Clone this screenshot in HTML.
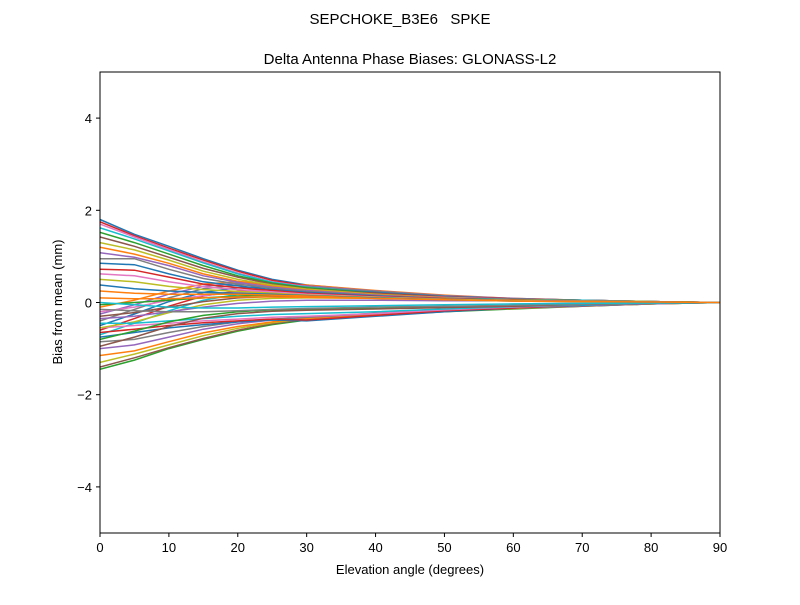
<!DOCTYPE html>
<html><head><meta charset="utf-8"><style>
body{margin:0;background:#fff;}
svg text{font-family:"Liberation Sans","DejaVu Sans",sans-serif;fill:#000;}
</style></head><body>
<svg id="chart" width="800" height="600" xmlns="http://www.w3.org/2000/svg">
<rect width="800" height="600" fill="#fff"/>
<text x="400" y="24" font-size="15" text-anchor="middle" xml:space="preserve">SEPCHOKE_B3E6   SPKE</text>
<text x="410" y="64" font-size="15" text-anchor="middle">Delta Antenna Phase Biases: GLONASS-L2</text>
<defs><clipPath id="clip"><rect x="100" y="72" width="620" height="461"/></clipPath></defs>
<g id="lines" clip-path="url(#clip)"></g>
<rect x="100" y="72" width="620" height="461" fill="none" stroke="#000" stroke-width="1"/>
<g id="axes"></g>
<text x="410" y="574" font-size="13" text-anchor="middle">Elevation angle (degrees)</text>
<text transform="translate(62,302) rotate(-90)" font-size="13" text-anchor="middle">Bias from mean (mm)</text>
</svg>
<script>
const elevations=[0,5,10,15,20,25,30,40,50,60,70,80,90];
const xTicks=[0,10,20,30,40,50,60,70,80,90];
const yTicks=[-4,-2,0,2,4];
const yTickLabels=["\u22124","\u22122","0","2","4"];
const seriesA1=[1.80,1.48,1.22,0.95,0.70,0.50,0.38,0.25,0.15,0.08,0.05,0.02,0];
const seriesA2=[1.75,1.45,1.18,0.92,0.68,0.48,0.36,0.24,0.14,0.08,0.04,0.02,0];
const seriesA3=[1.70,1.42,1.15,0.88,0.64,0.45,0.34,0.22,0.13,0.07,0.04,0.02,0];
const seriesA4=[1.62,1.38,1.12,0.86,0.62,0.44,0.33,0.21,0.12,0.07,0.04,0.01,0];
const seriesA5=[1.52,1.30,1.05,0.80,0.58,0.42,0.32,0.20,0.12,0.06,0.03,0.01,0];
const seriesA6=[1.42,1.22,0.98,0.74,0.55,0.40,0.30,0.19,0.11,0.06,0.03,0.01,0];
const seriesA7=[1.30,1.14,0.92,0.68,0.50,0.38,0.29,0.18,0.10,0.06,0.03,0.01,0];
const seriesA8=[1.20,1.05,0.85,0.62,0.46,0.35,0.27,0.17,0.10,0.05,0.03,0.01,0];
const seriesA9=[1.08,0.98,0.80,0.58,0.44,0.33,0.26,0.16,0.09,0.05,0.03,0.01,0];
const seriesA10=[0.95,0.95,0.72,0.52,0.40,0.31,0.24,0.15,0.09,0.05,0.02,0.01,0];
const seriesA11=[0.85,0.82,0.62,0.45,0.36,0.28,0.22,0.14,0.08,0.05,0.02,0.01,0];
const seriesA12=[0.72,0.70,0.55,0.40,0.32,0.26,0.20,0.13,0.08,0.04,0.02,0.01,0];
const seriesA13=[0.62,0.58,0.45,0.34,0.28,0.23,0.18,0.12,0.07,0.04,0.02,0.01,0];
const seriesA14=[0.50,0.45,0.35,0.28,0.24,0.20,0.16,0.11,0.07,0.04,0.02,0.01,0];
const seriesA15=[0.38,0.30,0.25,0.22,0.20,0.18,0.15,0.10,0.06,0.03,0.02,0.01,0];
const seriesA16=[0.25,0.20,0.18,0.18,0.18,0.16,0.14,0.09,0.06,0.03,0.02,0.01,0];
const seriesB1=[-0.10,0.05,0.25,0.40,0.45,0.43,0.38,0.26,0.16,0.09,0.05,0.02,0];
const seriesB2=[-0.25,-0.05,0.18,0.35,0.42,0.41,0.36,0.25,0.15,0.09,0.05,0.02,0];
const seriesB3=[-0.40,-0.15,0.10,0.30,0.38,0.38,0.34,0.24,0.14,0.08,0.05,0.02,0];
const seriesB4=[-0.50,-0.25,0.02,0.22,0.32,0.34,0.31,0.22,0.13,0.08,0.05,0.02,0];
const seriesB5=[-0.60,-0.35,-0.08,0.14,0.25,0.28,0.27,0.20,0.12,0.08,0.05,0.02,0];
const seriesB6=[-0.20,-0.10,0.05,0.15,0.22,0.24,0.23,0.17,0.11,0.07,0.04,0.02,0];
const seriesB7=[-0.70,-0.45,-0.18,0.05,0.18,0.22,0.22,0.16,0.10,0.07,0.05,0.02,0];
const seriesB8=[-0.05,0.00,0.05,0.10,0.14,0.16,0.16,0.13,0.09,0.06,0.04,0.02,0];
const seriesB9=[-0.30,-0.22,-0.10,0.02,0.10,0.13,0.14,0.11,0.08,0.06,0.04,0.02,0];
const seriesB10=[-0.55,-0.42,-0.22,-0.05,0.05,0.09,0.10,0.09,0.07,0.05,0.04,0.02,0];
const seriesB11=[0.10,0.08,0.08,0.10,0.12,0.12,0.11,0.09,0.07,0.05,0.03,0.01,0];
const seriesB12=[-0.35,-0.30,-0.20,-0.10,-0.02,0.03,0.05,0.05,0.04,0.04,0.03,0.01,0];
const seriesC1=[-1.45,-1.25,-1.00,-0.80,-0.62,-0.48,-0.38,-0.28,-0.20,-0.14,-0.08,-0.03,0];
const seriesC2=[-1.40,-1.20,-0.98,-0.78,-0.60,-0.46,-0.36,-0.27,-0.19,-0.13,-0.08,-0.03,0];
const seriesC3=[-1.30,-1.12,-0.92,-0.72,-0.56,-0.44,-0.35,-0.26,-0.18,-0.13,-0.07,-0.03,0];
const seriesC4=[-1.15,-1.05,-0.85,-0.66,-0.52,-0.42,-0.34,-0.25,-0.18,-0.12,-0.07,-0.03,0];
const seriesC5=[-1.00,-0.92,-0.75,-0.58,-0.46,-0.38,-0.32,-0.24,-0.17,-0.12,-0.07,-0.03,0];
const seriesC6=[-0.85,-0.80,-0.65,-0.52,-0.42,-0.36,-0.32,-0.23,-0.16,-0.11,-0.06,-0.02,0];
const seriesC7=[-0.75,-0.65,-0.55,-0.48,-0.42,-0.38,-0.40,-0.30,-0.20,-0.12,-0.06,-0.02,0];
const seriesC8=[-0.65,-0.58,-0.50,-0.44,-0.40,-0.36,-0.38,-0.28,-0.18,-0.12,-0.05,-0.02,0];
const seriesC9=[-0.55,-0.50,-0.45,-0.40,-0.36,-0.32,-0.30,-0.24,-0.16,-0.10,-0.05,-0.02,0];
const seriesC10=[-0.45,-0.45,-0.40,-0.35,-0.30,-0.26,-0.24,-0.20,-0.14,-0.09,-0.05,-0.02,0];
const seriesC11=[-0.80,-0.62,-0.42,-0.28,-0.20,-0.16,-0.15,-0.13,-0.10,-0.07,-0.04,-0.02,0];
const seriesC12=[-0.95,-0.75,-0.52,-0.34,-0.24,-0.19,-0.17,-0.14,-0.11,-0.08,-0.04,-0.02,0];
const seriesC13=[-0.15,-0.18,-0.20,-0.20,-0.18,-0.15,-0.13,-0.10,-0.08,-0.06,-0.04,-0.02,0];
const seriesC14=[0.00,-0.05,-0.10,-0.12,-0.12,-0.10,-0.09,-0.07,-0.05,-0.03,-0.02,-0.01,0];
const allSeries=[seriesA1,seriesB1,seriesC1,seriesA2,seriesB2,seriesC2,seriesA3,seriesB3,seriesC3,seriesA4,seriesB4,seriesC4,seriesA5,seriesB5,seriesC5,seriesA6,seriesB6,seriesC6,seriesA7,seriesB7,seriesC7,seriesA8,seriesB8,seriesC8,seriesA9,seriesB9,seriesC9,seriesA10,seriesB10,seriesC10,seriesA11,seriesB11,seriesC11,seriesA12,seriesB12,seriesC12,seriesA13,seriesC13,seriesA14,seriesC14,seriesA15,seriesA16];
const colors=["#1f77b4","#ff7f0e","#2ca02c","#d62728","#9467bd","#8c564b","#e377c2","#7f7f7f","#bcbd22","#17becf"];
const NS="http://www.w3.org/2000/svg";
const X0=100,X1=720,Y0=533,Y1=72;
function xs(v){return X0+(v-0)/(90-0)*(X1-X0);}
function ys(v){return Y0-(v+5)/10*(Y0-Y1);}
const lines=document.getElementById('lines');
allSeries.forEach((s,i)=>{
  const p=document.createElementNS(NS,'polyline');
  p.setAttribute('points',s.map((v,j)=>xs(elevations[j]).toFixed(1)+','+ys(v).toFixed(1)).join(' '));
  p.setAttribute('fill','none');
  p.setAttribute('stroke',colors[i%colors.length]);
  p.setAttribute('stroke-width','1.5');
  
  
  lines.appendChild(p);
});
const axes=document.getElementById('axes');
xTicks.forEach(t=>{
  const l=document.createElementNS(NS,'line');
  l.setAttribute('x1',xs(t));l.setAttribute('x2',xs(t));l.setAttribute('y1',Y0);l.setAttribute('y2',Y0+4);l.setAttribute('stroke','#000');
  
  
  axes.appendChild(l);
  const tx=document.createElementNS(NS,'text');
  tx.setAttribute('x',xs(t));tx.setAttribute('y',Y0+19);tx.setAttribute('font-size','13');tx.setAttribute('text-anchor','middle');
  tx.textContent=t;
  
  
  axes.appendChild(tx);
});
yTicks.forEach((t,i)=>{
  const l=document.createElementNS(NS,'line');
  l.setAttribute('x1',X0-4);l.setAttribute('x2',X0);l.setAttribute('y1',ys(t));l.setAttribute('y2',ys(t));l.setAttribute('stroke','#000');
  
  
  axes.appendChild(l);
  const tx=document.createElementNS(NS,'text');
  tx.setAttribute('x',X0-8);tx.setAttribute('y',ys(t)+5);tx.setAttribute('font-size','13');tx.setAttribute('text-anchor','end');
  tx.textContent=yTickLabels[i];
  
  
  axes.appendChild(tx);
});
</script>
</body></html>
